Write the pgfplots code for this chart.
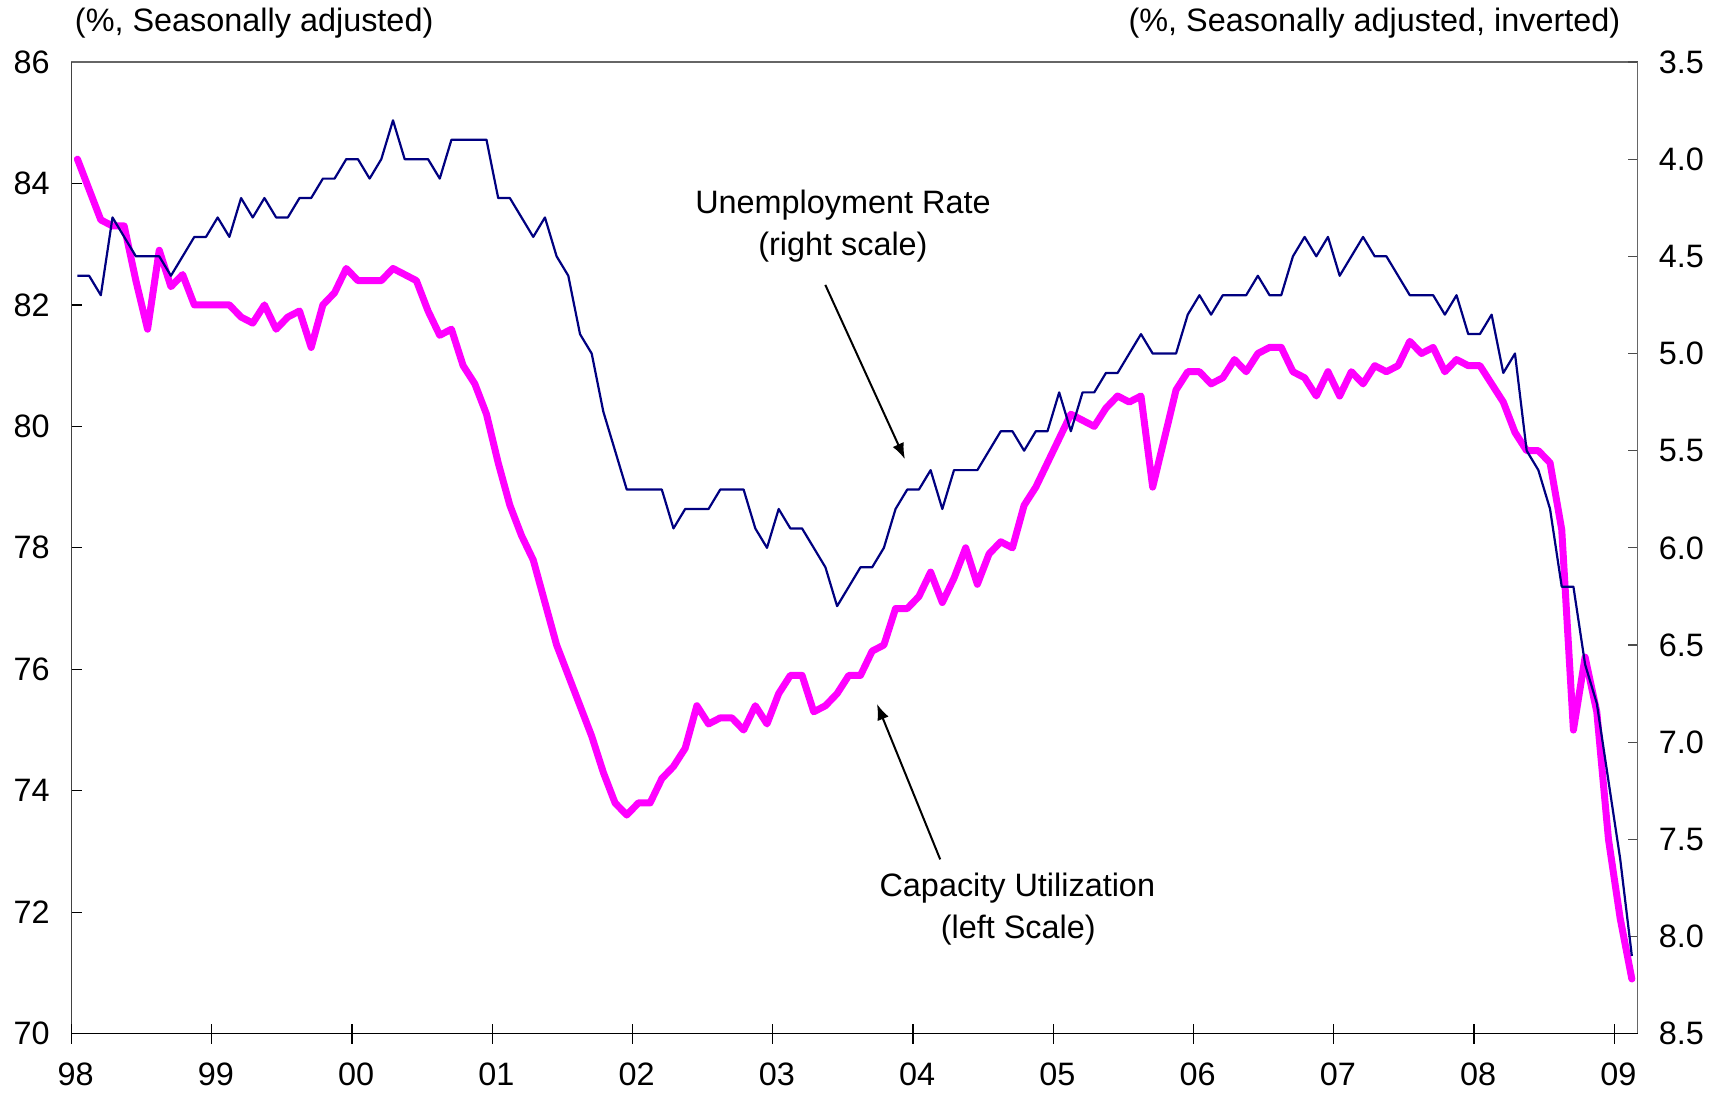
\documentclass[border=0pt]{standalone}
\usepackage{pgfplots}
\pgfplotsset{compat=1.18}
\usepackage{pgfplotstable}
\usepackage{fontspec}
\setmainfont{Liberation Sans}
\usetikzlibrary{arrows.meta}
\definecolor{cumag}{RGB}{255,0,255}
\definecolor{unavy}{RGB}{0,0,128}
\newcommand\cf{\fontsize{16.2}{19.4}\selectfont}

\pgfplotstableread{
x cu
0.5 84.4
1.5 83.9
2.5 83.4
3.5 83.3
4.5 83.3
5.5 82.4
6.5 81.6
7.5 82.9
8.5 82.3
9.5 82.5
10.5 82.0
11.5 82.0
12.5 82.0
13.5 82.0
14.5 81.8
15.5 81.7
16.5 82.0
17.5 81.6
18.5 81.8
19.5 81.9
20.5 81.3
21.5 82.0
22.5 82.2
23.5 82.6
24.5 82.4
25.5 82.4
26.5 82.4
27.5 82.6
28.5 82.5
29.5 82.4
30.5 81.9
31.5 81.5
32.5 81.6
33.5 81.0
34.5 80.7
35.5 80.2
36.5 79.4
37.5 78.7
38.5 78.2
39.5 77.8
40.5 77.1
41.5 76.4
42.5 75.9
43.5 75.4
44.5 74.9
45.5 74.3
46.5 73.8
47.5 73.6
48.5 73.8
49.5 73.8
50.5 74.2
51.5 74.4
52.5 74.7
53.5 75.4
54.5 75.1
55.5 75.2
56.5 75.2
57.5 75.0
58.5 75.4
59.5 75.1
60.5 75.6
61.5 75.9
62.5 75.9
63.5 75.3
64.5 75.4
65.5 75.6
66.5 75.9
67.5 75.9
68.5 76.3
69.5 76.4
70.5 77.0
71.5 77.0
72.5 77.2
73.5 77.6
74.5 77.1
75.5 77.5
76.5 78.0
77.5 77.4
78.5 77.9
79.5 78.1
80.5 78.0
81.5 78.7
82.5 79.0
83.5 79.4
84.5 79.8
85.5 80.2
86.5 80.1
87.5 80.0
88.5 80.3
89.5 80.5
90.5 80.4
91.5 80.5
92.5 79.0
93.5 79.8
94.5 80.6
95.5 80.9
96.5 80.9
97.5 80.7
98.5 80.8
99.5 81.1
100.5 80.9
101.5 81.2
102.5 81.3
103.5 81.3
104.5 80.9
105.5 80.8
106.5 80.5
107.5 80.9
108.5 80.5
109.5 80.9
110.5 80.7
111.5 81.0
112.5 80.9
113.5 81.0
114.5 81.4
115.5 81.2
116.5 81.3
117.5 80.9
118.5 81.1
119.5 81.0
120.5 81.0
121.5 80.7
122.5 80.4
123.5 79.9
124.5 79.6
125.5 79.6
126.5 79.4
127.5 78.3
128.5 75.0
129.5 76.2
130.5 75.3
131.5 73.2
132.5 71.9
133.5 70.9
}\cutable

\pgfplotstableread{
x u
0.5 4.6
1.5 4.6
2.5 4.7
3.5 4.3
4.5 4.4
5.5 4.5
6.5 4.5
7.5 4.5
8.5 4.6
9.5 4.5
10.5 4.4
11.5 4.4
12.5 4.3
13.5 4.4
14.5 4.2
15.5 4.3
16.5 4.2
17.5 4.3
18.5 4.3
19.5 4.2
20.5 4.2
21.5 4.1
22.5 4.1
23.5 4.0
24.5 4.0
25.5 4.1
26.5 4.0
27.5 3.8
28.5 4.0
29.5 4.0
30.5 4.0
31.5 4.1
32.5 3.9
33.5 3.9
34.5 3.9
35.5 3.9
36.5 4.2
37.5 4.2
38.5 4.3
39.5 4.4
40.5 4.3
41.5 4.5
42.5 4.6
43.5 4.9
44.5 5.0
45.5 5.3
46.5 5.5
47.5 5.7
48.5 5.7
49.5 5.7
50.5 5.7
51.5 5.9
52.5 5.8
53.5 5.8
54.5 5.8
55.5 5.7
56.5 5.7
57.5 5.7
58.5 5.9
59.5 6.0
60.5 5.8
61.5 5.9
62.5 5.9
63.5 6.0
64.5 6.1
65.5 6.3
66.5 6.2
67.5 6.1
68.5 6.1
69.5 6.0
70.5 5.8
71.5 5.7
72.5 5.7
73.5 5.6
74.5 5.8
75.5 5.6
76.5 5.6
77.5 5.6
78.5 5.5
79.5 5.4
80.5 5.4
81.5 5.5
82.5 5.4
83.5 5.4
84.5 5.2
85.5 5.4
86.5 5.2
87.5 5.2
88.5 5.1
89.5 5.1
90.5 5.0
91.5 4.9
92.5 5.0
93.5 5.0
94.5 5.0
95.5 4.8
96.5 4.7
97.5 4.8
98.5 4.7
99.5 4.7
100.5 4.7
101.5 4.6
102.5 4.7
103.5 4.7
104.5 4.5
105.5 4.4
106.5 4.5
107.5 4.4
108.5 4.6
109.5 4.5
110.5 4.4
111.5 4.5
112.5 4.5
113.5 4.6
114.5 4.7
115.5 4.7
116.5 4.7
117.5 4.8
118.5 4.7
119.5 4.9
120.5 4.9
121.5 4.8
122.5 5.1
123.5 5.0
124.5 5.5
125.5 5.6
126.5 5.8
127.5 6.2
128.5 6.2
129.5 6.6
130.5 6.8
131.5 7.2
132.5 7.6
133.5 8.1
}\utable

\begin{document}
\begin{tikzpicture}
% Left axis: capacity utilization
\begin{axis}[
  at={(0,0)}, anchor=south west,
  scale only axis, width=783.05pt, height=485.85pt,
  xmin=0, xmax=134, ymin=70, ymax=86,
  axis line style={black!60, line width=0.6pt},
  xtick=\empty,
  ytick={70,72,...,86}, ytick pos=left, ytick align=inside,
  major tick length=5pt,
  tick style={black, line width=0.6pt},
  yticklabel style={font=\cf, xshift=-7.4pt},
  /pgf/number format/assume math mode=true,
]
\addplot[cumag, line width=3.5pt, line join=round, line cap=round] table[x=x, y=cu] {\cutable};
\draw[black, line width=0.6pt] (rel axis cs:0,0) -- (rel axis cs:0,1);
\node[font=\cf, anchor=base, inner sep=0] at (axis cs:66.0,83.51) {Unemployment Rate};
\node[font=\cf, anchor=base, inner sep=0] at (axis cs:66.0,82.82) {(right scale)};
\node[font=\cf, anchor=base, inner sep=0] at (axis cs:80.92,72.26) {Capacity Utilization};
\node[font=\cf, anchor=base, inner sep=0] at (axis cs:81.0,71.57) {(left Scale)};
\draw[-{Latex[length=8pt,width=6pt]}, line width=1pt] (axis cs:64.49,82.33) -- (axis cs:71.3,79.46);
\draw[-{Latex[length=8pt,width=6pt]}, line width=1pt] (axis cs:74.32,72.87) -- (axis cs:68.91,75.43);
\end{axis}
% Right axis: unemployment (inverted)
\begin{axis}[
  at={(0,0)}, anchor=south west,
  scale only axis, width=783.05pt, height=485.85pt,
  xmin=0, xmax=134, ymin=3.5, ymax=8.5, y dir=reverse,
  axis x line=none, axis y line*=right,
  y axis line style={-, black!60, line width=0.6pt},
  ytick={3.5,4.0,4.5,5.0,5.5,6.0,6.5,7.0,7.5,8.0,8.5},
  ytick align=inside, major tick length=5pt,
  tick style={black!70, line width=0.6pt},
  yticklabel style={font=\cf, xshift=7.1pt, /pgf/number format/fixed, /pgf/number format/fixed zerofill, /pgf/number format/precision=1},
  /pgf/number format/assume math mode=true,
]
\addplot[unavy, line width=1.1pt, line join=round] table[x=x, y=u] {\utable};
\end{axis}
% X axis
\begin{axis}[
  at={(0,0)}, anchor=south west,
  scale only axis, width=783.05pt, height=485.85pt,
  xmin=0, xmax=134, ymin=0, ymax=1,
  axis y line=none, axis x line*=bottom,
  x axis line style={-, black, line width=0.6pt},
  xtick={0,12,...,132}, xticklabels={98,99,00,01,02,03,04,05,06,07,08,09},
  xtick align=center, major tick length=10pt,
  tick style={black, line width=0.6pt},
  xticklabel style={font=\cf, yshift=-6pt, xshift=2pt},
]
\end{axis}
\node[font=\cf, anchor=base west, inner sep=0] at (1.5pt,501pt) {(\%, Seasonally adjusted)};
\node[font=\cf, anchor=base east, inner sep=0] at (774.55pt,501pt) {(\%, Seasonally adjusted, inverted)};
\pgfresetboundingbox
\useasboundingbox (-35.8pt,-31.15pt) rectangle (824.7pt,516.85pt);
\end{tikzpicture}
\end{document}
